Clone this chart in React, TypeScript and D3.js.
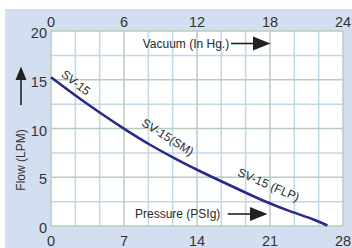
import React from "react";
import * as d3 from "d3";

const pressureTicks = [0, 7, 14, 21, 28];
const vacuumTicks = [0, 6, 12, 18, 24];
const flowTicks = [0, 5, 10, 15, 20];

const curvePressure = [0, 2.3, 4.7, 7.1, 9.5, 11.9, 14.3, 16.7, 18.1, 20.5, 22.9, 25.3, 26.5];
const curveFlow = [15.25, 13.4, 11.6, 9.9, 8.3, 6.9, 5.6, 4.4, 3.7, 2.5, 1.5, 0.65, 0.05];

const curveLabels = ["SV-15", "SV-15(SM)", "SV-15 (FLP)"];
const curveLabelPressure = [0.9, 8.6, 17.8];
const curveLabelFlow = [15.4, 10.35, 5.2];
const curveLabelAngle = [38, 32, 23.5];

const W = 352;
const H = 248;
const M = { left: 51, right: 343, top: 31, bottom: 226 };
const FONT = "'Liberation Sans', Arial, sans-serif";

export default function App() {
  const x = d3.scaleLinear().domain([0, 28]).range([M.left, M.right]);
  const xv = d3.scaleLinear().domain([0, 24]).range([M.left, M.right]);
  const y = d3.scaleLinear().domain([0, 20]).range([M.bottom, M.top]);

  const vLines = d3.range(13).map((i) => ({ v: (i * 28) / 12, major: i % 3 === 0 }));
  const hLines = d3.range(9).map((i) => ({ v: i * 2.5, major: i % 2 === 0 }));

  const pts: [number, number][] = curvePressure.map((p, i) => [p, curveFlow[i]]);
  const line = d3
    .line<[number, number]>()
    .x((d) => x(d[0]))
    .y((d) => y(d[1]))
    .curve(d3.curveBasis);

  const minorC = "#c3d8e6";
  const majorC = "#b9ccbc";

  return (
    <svg
      width={W}
      height={H}
      style={{ position: "absolute", left: 0, top: 0 }}
      fontFamily={FONT}
    >
      <rect x={0} y={0} width={W} height={H} fill="#ffffff" />
      <rect x={5} y={9} width={W - 5} height={H - 9} fill="#d3dff0" />
      <rect
        x={M.left}
        y={M.top}
        width={M.right - M.left}
        height={M.bottom - M.top}
        fill="#ffffff"
      />
      {vLines
        .filter((d) => !d.major)
        .map((d, i) => (
          <line key={"vm" + i} x1={x(d.v)} x2={x(d.v)} y1={M.top} y2={M.bottom} stroke={minorC} strokeWidth={1.5} />
        ))}
      {hLines
        .filter((d) => !d.major)
        .map((d, i) => (
          <line key={"hm" + i} x1={M.left} x2={M.right} y1={y(d.v)} y2={y(d.v)} stroke={minorC} strokeWidth={1.5} />
        ))}
      {vLines
        .filter((d) => d.major)
        .map((d, i) => (
          <line key={"vM" + i} x1={x(d.v)} x2={x(d.v)} y1={M.top} y2={M.bottom} stroke={majorC} strokeWidth={1.5} />
        ))}
      {hLines
        .filter((d) => d.major)
        .map((d, i) => (
          <line key={"hM" + i} x1={M.left} x2={M.right} y1={y(d.v)} y2={y(d.v)} stroke={majorC} strokeWidth={1.5} />
        ))}

      <path d={line(pts) || ""} fill="none" stroke="#2a2a8a" strokeWidth={2.6} />

      {curveLabels.map((t, i) => (
        <text
          key={t}
          transform={`translate(${x(curveLabelPressure[i])},${y(curveLabelFlow[i])}) rotate(${curveLabelAngle[i]})`}
          fontSize={12}
          fill="#2a2a2a"
        >
          {t}
        </text>
      ))}

      {pressureTicks.map((t) => (
        <text key={"p" + t} x={x(t)} y={245.5} fontSize={14.5} textAnchor="middle" fill="#333">
          {t}
        </text>
      ))}
      {vacuumTicks.map((t) => (
        <text key={"v" + t} x={xv(t)} y={26.7} fontSize={14.5} textAnchor="middle" fill="#333">
          {t}
        </text>
      ))}
      {flowTicks.map((t) => (
        <text key={"f" + t} x={47} y={y(t) + 7} fontSize={14.5} textAnchor="end" fill="#333">
          {t}
        </text>
      ))}

      <text transform="translate(24.5,160) rotate(-90)" fontSize={12} textAnchor="middle" fill="#333">
        Flow (LPM)
      </text>
      <line x1={21} x2={21} y1={105} y2={78} stroke="#222" strokeWidth={1.6} />
      <path d="M21,66.5 L26.5,80 L15.5,80 Z" fill="#222" />

      <text x={142.7} y={47.5} fontSize={12} fill="#2a2a2a">
        Vacuum (In Hg.)
      </text>
      <line x1={231} x2={255} y1={43.5} y2={43.5} stroke="#222" strokeWidth={1.6} />
      <path d="M270.5,43.5 L253,36.5 L253,50.5 Z" fill="#222" />

      <text x={135} y={218} fontSize={12} fill="#2a2a2a">
        Pressure (PSIg)
      </text>
      <line x1={227.7} x2={252} y1={214} y2={214} stroke="#222" strokeWidth={1.6} />
      <path d="M267.5,214 L250,207 L250,221 Z" fill="#222" />
    </svg>
  );
}
